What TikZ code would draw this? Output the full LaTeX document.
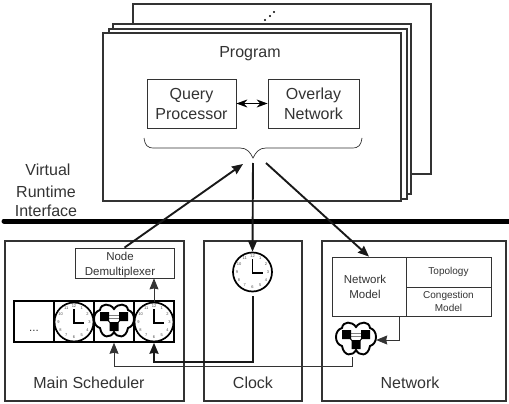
\documentclass[tikz,border=0pt]{standalone}
\usepackage{fontspec}
\setmainfont{Liberation Sans}
\usepackage{tikz}
\usetikzlibrary{arrows.meta}
\definecolor{inkgray}{gray}{0.2}
\tikzstyle{page} = [draw=inkgray, line width=1.4pt, fill=white, inner sep=0pt]
\tikzstyle{panel} = [draw=inkgray, line width=1.6pt, inner sep=0pt]
\tikzstyle{module} = [draw=inkgray, line width=0.8pt, fill=white, inner sep=0pt, align=center, text=inkgray, font={\fontsize{16}{20}\selectfont}]
\tikzstyle{smallmodule} = [module, font={\fontsize{11.5}{15}\selectfont}]
\tikzstyle{tinymodule} = [module, font={\fontsize{10}{13}\selectfont}]
\tikzstyle{smalltext} = [inner sep=0pt, align=center, text=inkgray, font={\fontsize{11.5}{15}\selectfont}]
\tikzstyle{cell} = [draw=black, line width=1.5pt, fill=white, inner sep=0pt, minimum width=40pt, minimum height=41pt]
\tikzstyle{caption} = [inner sep=0pt, text=inkgray, align=center, font={\fontsize{16}{21}\selectfont}]
\tikzstyle{clockrim} = [draw=black, line width=1.7pt, fill=white, circle, inner sep=0pt, minimum size=39pt]
\tikzstyle{clocknum} = [inner sep=0pt, text=black!70, font={\fontsize{4}{4}\selectfont}]
\tikzstyle{clockhand} = [draw=black, line width=1.8pt]
\tikzstyle{cloudbox} = [inner sep=0pt, minimum width=40pt, minimum height=31pt]
\tikzstyle{heavy} = [draw=black!90, line width=1.9pt, -{Stealth[length=11pt,width=9pt,inset=1pt]}]
\tikzstyle{light} = [draw=inkgray, line width=0.8pt, -{Stealth[length=11pt,width=9pt,inset=1pt]}]
\newcommand{\clockface}[2]{
  \node[clockrim](#1) at (#2){};
  \foreach \n in {1,...,12}{
    \node[clocknum](#1-\n) at ([shift={({15.5*sin(30*\n)},{-15.5*cos(30*\n)})}]#1.center){\n};
  }
  \draw[clockhand] ([shift={(0,-13)}]#1.center) |- ([shift={(10,1)}]#1.center);
}
\newcommand{\netcloud}[2]{
  \node[cloudbox](#1) at (#2){};
  \begin{scope}[shift={(#2)}]
    \draw[draw=black, line width=1.9pt, fill=white] (0,-13) .. controls (-4,-19) and (-13,-19) .. (-14,-12)
      .. controls (-22,-10) and (-22,4) .. (-14,6) .. controls (-12,17) and (-3,16) .. (0,10)
      .. controls (3,16) and (12,17) .. (14,6) .. controls (22,4) and (22,-10) .. (14,-12)
      .. controls (13,-19) and (4,-19) .. (0,-13) -- cycle;
    \draw[black!50, line width=0.8pt] (-9,-7) -- (9,-7) (-9,-4) -- (9,-4);
    \draw[black, line width=1pt] (-9,-5) -- (0,5) -- (9,-5);
    \fill[black] (-14,-10) rectangle (-5,-1) (5,-10) rectangle (14,-1) (-4.5,0) rectangle (4.5,9);
  \end{scope}
}
\begin{document}
\begin{tikzpicture}[x=1pt,y=-1pt]
  \useasboundingbox (0,0) rectangle (509,404);
  % program pages
  \node[page,minimum width=298pt,minimum height=170pt](page3) at (282,89){};
  \node[page,minimum width=298pt,minimum height=170pt](page2) at (262,109){};
  \node[page,minimum width=298pt,minimum height=170pt](page1) at (258,114){};
  \node[page,minimum width=298pt,minimum height=168pt](page0) at (252,117){};
  \fill[black] (265,20) circle (1.2pt) (270,16) circle (1.2pt) (274,12) circle (1.2pt);
  \node[caption](program) at (250,54){Program};
  \node[module,minimum width=89pt,minimum height=49pt](query) at (191.5,103.5){Query\\Processor};
  \node[module,minimum width=91pt,minimum height=49pt](overlay) at (313.5,103.5){Overlay\\Network};
  \draw[draw=black, line width=0.9pt, {Stealth[length=11pt,width=8pt]}-{Stealth[length=11pt,width=8pt]}](query)--(overlay);
  \draw[draw=inkgray, line width=0.7pt] (144,138) .. controls (145,145) and (147,148) .. (154,148) -- (240,148)
    .. controls (247,148) and (250,152) .. (253,158) .. controls (256,152) and (259,148) .. (266,148)
    -- (352,148) .. controls (359,148) and (361,145) .. (362,138);
  \coordinate (uplink) at (243,164);
  \coordinate (clocklink) at (253,163);
  \coordinate (netlink) at (266,163);
  % interface
  \node[caption](virtual) at (48,170){Virtual};
  \node[caption](runtime) at (46,192){Runtime};
  \node[caption](interface) at (46,211){Interface};
  \draw[black, line width=5pt, line cap=round] (4,221) -- (509,221);
  % panels
  \node[panel,minimum width=179pt,minimum height=160pt](scheduler) at (94.5,321){};
  \node[panel,minimum width=98pt,minimum height=160pt](clockpanel) at (253,321){};
  \node[panel,minimum width=184pt,minimum height=160pt](networkpanel) at (414,321){};
  \node[caption](schedulerlabel) at (89,383){Main Scheduler};
  \node[caption](clocklabel) at (253,383){Clock};
  \node[caption](networklabel) at (410,383){Network};
  % scheduler
  \node[smallmodule,minimum width=99pt,minimum height=30pt](demux) at (124.5,263){};
  \node[smalltext](demuxlabel) at (120,265){Node\\Demultiplexer};
  \node[cell](cell0) at (34,321.5){};
  \node[cell](cell1) at (74,321.5){};
  \node[cell](cell2) at (114,321.5){};
  \node[cell](cell3) at (154,321.5){};
  \node[inner sep=0pt,text=inkgray,font={\fontsize{11.5}{14}\selectfont}](more) at (34,331){...};
  \clockface{clockone}{74,322}
  \netcloud{cloudone}{114,322}
  \clockface{clocktwo}{154,322}
  % clock
  \clockface{simclock}{252.5,272}
  % network
  \node[smallmodule,minimum width=74pt,minimum height=59pt](model) at (369,286.5){};
  \node[smalltext](modellabel) at (365,287){Network\\Model};
  \node[tinymodule,minimum width=85pt,minimum height=30pt](topology) at (448.5,272){Topology};
  \node[tinymodule,minimum width=85pt,minimum height=29pt](congestion) at (448.5,301.5){Congestion\\Model};
  \netcloud{cloudtwo}{356,340}
  % connectors
  \coordinate (modelout) at (399,316);
  \coordinate (cloudout) at (352,357);
  \coordinate (clockout) at (253,296);
  \coordinate (clockturn) at (154,362);
  \coordinate (cloudturn) at (114,366);
  \draw[heavy](demux.north)--(uplink);
  \draw[heavy](clocklink)--(simclock.north);
  \draw[heavy](netlink)--(model.north);
  \draw[light](clocktwo.north)--(demux.south -| clocktwo.north);
  \draw[light](modelout)|-(cloudtwo.east);
  \draw[light](cloudout)|-(cloudturn)--(cell2.south);
  \draw[heavy](clockout)|-(clockturn)--(cell3.south);
\end{tikzpicture}
\end{document}
